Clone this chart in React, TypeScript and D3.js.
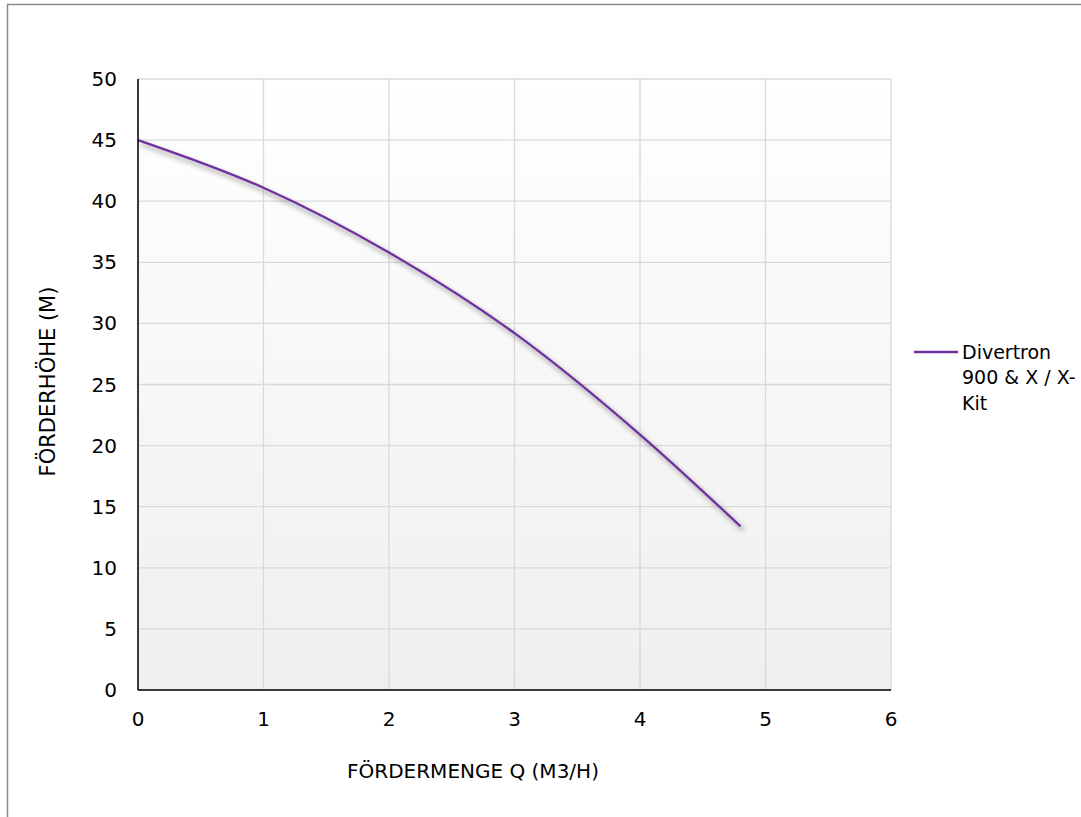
import React from "react";
import * as d3 from "d3";

const qValues = [0, 1, 2, 3, 4, 4.8];
const hValues = [45, 41.1, 35.8, 29.2, 20.9, 13.4];
const xTicks = [0, 1, 2, 3, 4, 5, 6];
const yTicks = [0, 5, 10, 15, 20, 25, 30, 35, 40, 45, 50];
const seriesName = ["Divertron", "900 & X / X-", "Kit"];
const xTitle = "FÖRDERMENGE Q (M3/H)";
const yTitle = "FÖRDERHÖHE (M)";

export default function App() {
  const W = 1081, H = 817;
  const left = 138, right = 891, top = 79, bottom = 690;
  const x = d3.scaleLinear().domain([0, 6]).range([left, right]);
  const y = d3.scaleLinear().domain([0, 50]).range([bottom, top]);
  const pts = qValues.map((q, i) => [q, hValues[i]] as [number, number]);
  const line = d3.line<[number, number]>().x(d => x(d[0])).y(d => y(d[1])).curve(d3.curveMonotoneX);
  const path = line(pts) || "";
  const font = "DejaVu Sans, Verdana, sans-serif";
  return (
    <svg width={W} height={H} style={{ position: "absolute", left: 0, top: 0 }} fontFamily={font}>
      <defs>
        <linearGradient id="bg" x1="0" y1="0" x2="0" y2="1">
          <stop offset="0" stopColor="#ffffff" />
          <stop offset="1" stopColor="#efefef" />
        </linearGradient>
        <filter id="sh" x="-10%" y="-10%" width="130%" height="130%">
          <feGaussianBlur stdDeviation="2.5" />
        </filter>
      </defs>
      <rect x={0} y={0} width={W} height={H} fill="#fff" />
      <rect x={7.5} y={4.5} width={W + 20} height={H + 20} fill="none" stroke="#8a8a8a" strokeWidth={1.5} />
      <rect x={left} y={top} width={right - left} height={bottom - top} fill="url(#bg)" />
      {xTicks.map(t => (
        <line key={"gx" + t} x1={x(t)} x2={x(t)} y1={top} y2={bottom} stroke="#d9d9d9" strokeWidth={1.3} />
      ))}
      {yTicks.map(t => (
        <line key={"gy" + t} x1={left} x2={right} y1={y(t)} y2={y(t)} stroke="#d9d9d9" strokeWidth={1.3} />
      ))}
      <path d={path} fill="none" stroke="#000" strokeOpacity={0.35} strokeWidth={3} transform="translate(3,4)" filter="url(#sh)" />
      <path d={path} fill="none" stroke="#7030a0" strokeWidth={2.3} />
      <line x1={left} x2={left} y1={top} y2={bottom} stroke="#000" strokeWidth={1.5} />
      <line x1={left} x2={right} y1={bottom} y2={bottom} stroke="#000" strokeWidth={1.5} />
      {yTicks.map(t => (
        <text key={"ty" + t} x={left - 21} y={y(t)} dy="0.35em" textAnchor="end" fontSize={20} fill="#000">{t}</text>
      ))}
      {xTicks.map(t => (
        <text key={"tx" + t} x={x(t)} y={bottom + 36} textAnchor="middle" fontSize={20} fill="#000">{t}</text>
      ))}
      <text x={473} y={778} textAnchor="middle" fontSize={20} fill="#000">{xTitle}</text>
      <text transform={`translate(55,${(top + bottom) / 2 - 3}) rotate(-90)`} textAnchor="middle" fontSize={21} fill="#000">{yTitle}</text>
      <line x1={914} x2={958} y1={352} y2={352} stroke="#7030a0" strokeWidth={2.3} />
      {seriesName.map((s, i) => (
        <text key={s} x={962} y={352 + i * 25.5} dy="0.35em" fontSize={19} fill="#000">{s}</text>
      ))}
    </svg>
  );
}
